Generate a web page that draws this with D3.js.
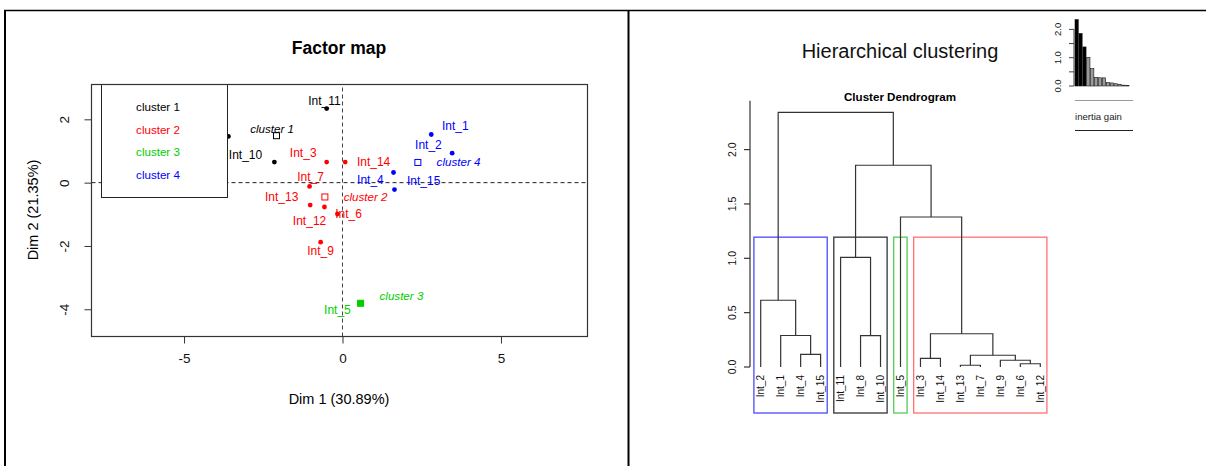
<!DOCTYPE html>
<html>
<head>
<meta charset="utf-8">
<title>Factor map and hierarchical clustering</title>
<script src="https://d3js.org/d3.v7.min.js"></script>
<style>
body { margin: 0; background: #fff; }
svg { display: block; font-family: "Liberation Sans", Arial, sans-serif; }
</style>
</head>
<body>
<svg id="chart" width="1206" height="466"></svg>
<script>
// individuals on the first factorial plane
const indNames   = ["Int_1","Int_2","Int_3","Int_4","Int_5","Int_6","Int_7","Int_8","Int_9","Int_10","Int_11","Int_12","Int_13","Int_14","Int_15"];
const dim1       = [2.80, 3.46, -0.50, 1.61, 0.57, -0.16, -1.04, -3.60, -0.69, -2.15, -0.50, -0.57, -1.02, 0.085, 1.64];
const dim2       = [1.52, 0.93, 0.65, 0.32, -3.81, -0.99, -0.12, 1.46, -1.88, 0.65, 2.34, -0.77, -0.71, 0.65, -0.22];
const indCluster = [4, 4, 2, 4, 3, 2, 2, 1, 2, 1, 1, 2, 2, 2, 4];
// where the text labels sit (in factor map units)
const labelDim1  = [3.56, 2.71, -1.24, 0.88, -0.16, 0.19, -1.01, -4.30, -0.69, -3.06, -0.57, -1.04, -1.92, 0.98, 2.56];
const labelDim2  = [1.78, 1.18, 0.93, 0.09, -4.03, -0.97, 0.17, 1.72, -2.14, 0.89, 2.59, -1.22, -0.45, 0.67, 0.07];

const clusterNames  = ["cluster 1","cluster 2","cluster 3","cluster 4"];
const clusterColors = ["#000000","#ff0000","#00cd00","#0000ff"];
const clusterLabelDim1 = [-2.22, 0.73, 1.86, 3.66];
const clusterLabelDim2 = [1.71, -0.45, -3.59, 0.64];

const xTicks = [-5, 0, 5];
const yTicks = [-4, -2, 0, 2];

// dendrogram (R style merge list: strings are leaves, numbers earlier steps)
const leafOrder   = ["Int_2","Int_1","Int_4","Int_15","Int_11","Int_8","Int_10","Int_5","Int_3","Int_14","Int_13","Int_7","Int_9","Int_6","Int_12"];
const mergeLeft   = ["Int_13","Int_6","Int_9","Int_3",1,"Int_4","Int_8","Int_1",4,"Int_2","Int_11","Int_5",11,10];
const mergeRight  = ["Int_7","Int_12",2,"Int_14",3,"Int_15","Int_10",6,5,8,7,9,12,13];
const mergeHeight = [0.016,0.030,0.062,0.080,0.108,0.117,0.288,0.290,0.306,0.614,1.009,1.380,1.856,2.343];
const dendroTicks = [0, 0.5, 1, 1.5, 2];
const nbClust = 4;

const svg = d3.select("#chart");

// table borders
svg.append("line").attr("x1", 4).attr("x2", 1206).attr("y1", 10.5).attr("y2", 10.5).attr("stroke", "#000").attr("stroke-width", 1.4);
svg.append("line").attr("x1", 5).attr("x2", 5).attr("y1", 10).attr("y2", 466).attr("stroke", "#000").attr("stroke-width", 2);
svg.append("line").attr("x1", 628.5).attr("x2", 628.5).attr("y1", 10).attr("y2", 466).attr("stroke", "#000").attr("stroke-width", 2);

// ---------- factor map ----------
const fx = d3.scaleLinear().domain([-7.92, 7.73]).range([91.5, 587.5]);
const fy = d3.scaleLinear().domain([-4.86, 3.10]).range([336.5, 84.5]);
const fm = svg.append("g");

fm.append("text").attr("x", 339).attr("y", 54).attr("text-anchor", "middle")
  .attr("font-size", 17.5).attr("font-weight", "bold").text("Factor map");

// dashed zero lines
fm.append("line").attr("x1", fx.range()[0]).attr("x2", fx.range()[1]).attr("y1", fy(0)).attr("y2", fy(0))
  .attr("stroke", "#222").attr("stroke-dasharray", "4,3");
fm.append("line").attr("x1", fx(0)).attr("x2", fx(0)).attr("y1", fy.range()[0]).attr("y2", fy.range()[1])
  .attr("stroke", "#444").attr("stroke-dasharray", "4,3");

// axes
const xAxis = fm.append("g").attr("transform", "translate(0," + fy.range()[0] + ")")
  .call(d3.axisBottom(fx).tickValues(xTicks).tickSize(7).tickPadding(10).tickFormat(d => String(d)));
xAxis.select(".domain").remove();
xAxis.selectAll("line").attr("stroke", "#333");
xAxis.selectAll("text").attr("font-size", 13.5).attr("fill", "#111").attr("font-family", "Liberation Sans, Arial, sans-serif");

const yAxis = fm.append("g").attr("transform", "translate(" + fx.range()[0] + ",0)")
  .call(d3.axisLeft(fy).tickValues(yTicks).tickSize(7).tickFormat(d => String(d)));
yAxis.select(".domain").remove();
yAxis.selectAll("line").attr("stroke", "#333");
yAxis.selectAll("text").attr("x", null).attr("dy", null).attr("text-anchor", "middle")
  .attr("transform", "translate(-23,0) rotate(-90)")
  .attr("font-size", 13.5).attr("fill", "#111").attr("font-family", "Liberation Sans, Arial, sans-serif");

fm.append("text").attr("x", 339).attr("y", 404).attr("text-anchor", "middle").attr("font-size", 14.5)
  .text("Dim 1 (30.89%)");
fm.append("text").attr("transform", "translate(38,210) rotate(-90)").attr("text-anchor", "middle").attr("font-size", 14.5)
  .text("Dim 2 (21.35%)");

// individuals
const inds = indNames.map((n, i) => ({name: n, x: dim1[i], y: dim2[i], lx: labelDim1[i], ly: labelDim2[i], c: indCluster[i]}));
fm.selectAll("circle.ind").data(inds).enter().append("circle")
  .attr("class", "ind")
  .attr("cx", d => fx(d.x)).attr("cy", d => fy(d.y)).attr("r", 2.4)
  .attr("fill", d => clusterColors[d.c - 1]);
fm.selectAll("text.ind").data(inds).enter().append("text")
  .attr("class", "ind")
  .attr("x", d => fx(d.lx)).attr("y", d => fy(d.ly)).attr("dy", "0.35em")
  .attr("text-anchor", "middle").attr("font-size", 12)
  .attr("fill", d => clusterColors[d.c - 1]).text(d => d.name);

// cluster centres
const centres = clusterNames.map((n, i) => {
  const members = inds.filter(d => d.c === i + 1);
  return {name: n, x: d3.mean(members, d => d.x), y: d3.mean(members, d => d.y),
          lx: clusterLabelDim1[i], ly: clusterLabelDim2[i], col: clusterColors[i], size: members.length};
});
fm.selectAll("rect.centre").data(centres).enter().append("rect")
  .attr("class", "centre")
  .attr("x", d => fx(d.x) - 3).attr("y", d => fy(d.y) - 3).attr("width", 6).attr("height", 6)
  .attr("fill", d => d.size === 1 ? d.col : "none")
  .attr("stroke", d => d.col).attr("stroke-width", 1);
fm.selectAll("text.centre").data(centres).enter().append("text")
  .attr("class", "centre")
  .attr("x", d => fx(d.lx)).attr("y", d => fy(d.ly)).attr("dy", "0.35em")
  .attr("text-anchor", "middle").attr("font-size", 11.6).attr("font-style", "italic")
  .attr("fill", d => d.col).text(d => d.name);

// legend
const legend = fm.append("g");
legend.append("rect").attr("x", 101.5).attr("y", 84.5).attr("width", 126).attr("height", 113)
  .attr("fill", "#fff").attr("stroke", "#222");
legend.selectAll("text").data(clusterNames).enter().append("text")
  .attr("x", 158).attr("y", (d, i) => 107 + i * 22.7).attr("dy", "0.35em")
  .attr("text-anchor", "middle").attr("font-size", 11.6)
  .attr("fill", (d, i) => clusterColors[i]).text(d => d);

// plot box
fm.append("rect").attr("x", fx.range()[0]).attr("y", fy.range()[1])
  .attr("width", fx.range()[1] - fx.range()[0]).attr("height", fy.range()[0] - fy.range()[1])
  .attr("fill", "none").attr("stroke", "#333").attr("stroke-width", 1.2);

// ---------- hierarchical clustering ----------
const hc = svg.append("g");
hc.append("text").attr("x", 900).attr("y", 58).attr("text-anchor", "middle").attr("font-size", 20)
  .attr("fill", "#111").text("Hierarchical clustering");
hc.append("text").attr("x", 900).attr("y", 101).attr("text-anchor", "middle").attr("font-size", 11.6)
  .attr("font-weight", "bold").text("Cluster Dendrogram");

const dx = d3.scalePoint().domain(leafOrder).range([760.7, 1040.3]);
const dy = d3.scaleLinear().domain([0, 2]).range([367, 149.6]);
const dendroBottom = 413;

// cluster boxes (cut at nbClust)
const cutH = (mergeHeight[mergeHeight.length - nbClust] + mergeHeight[mergeHeight.length - nbClust + 1]) / 2;
const boxes = clusterNames.map((n, i) => {
  const lv = leafOrder.filter(l => indCluster[indNames.indexOf(l)] === i + 1);
  return {first: lv[0], last: lv[lv.length - 1], col: clusterColors[i]};
});
const boxCols = ["#333333", "#ff7070", "#55cc55", "#4a4aff"];
hc.selectAll("rect.box").data(boxes).enter().append("rect")
  .attr("class", "box")
  .attr("x", d => dx(d.first) - 0.34 * dx.step())
  .attr("y", dy(cutH))
  .attr("width", d => dx(d.last) - dx(d.first) + 0.67 * dx.step())
  .attr("height", d => dendroBottom - dy(cutH))
  .attr("fill", "none").attr("stroke", (d, i) => boxCols[i]).attr("stroke-width", 1.3);

// merges
const nodes = [];
const pos = ref => typeof ref === "string" ? {x: dx(ref), h: 0} : nodes[ref - 1];
mergeHeight.forEach((h, i) => {
  const a = pos(mergeLeft[i]), b = pos(mergeRight[i]);
  nodes.push({x: (a.x + b.x) / 2, h: h, a: a, b: b});
});
hc.selectAll("path.merge").data(nodes).enter().append("path")
  .attr("class", "merge")
  .attr("d", d => "M" + d.a.x + "," + dy(d.a.h) + "V" + dy(d.h) + "H" + d.b.x + "V" + dy(d.b.h))
  .attr("fill", "none").attr("stroke", "#333").attr("stroke-width", 1.2);

hc.selectAll("text.leaf").data(leafOrder).enter().append("text")
  .attr("class", "leaf")
  .attr("transform", d => "translate(" + (dx(d) + 3.5) + ",375) rotate(-90)")
  .attr("text-anchor", "end").attr("font-size", 10).attr("fill", "#111").text(d => d);

// dendrogram axis
hc.append("line").attr("x1", 750).attr("x2", 750).attr("y1", dy(0)).attr("y2", dy(2.45))
  .attr("stroke", "#333").attr("stroke-width", 1.2);
const dt = hc.selectAll("g.dtick").data(dendroTicks).enter().append("g")
  .attr("class", "dtick").attr("transform", d => "translate(750," + dy(d) + ")");
dt.append("line").attr("x1", -6).attr("x2", 0).attr("stroke", "#333").attr("stroke-width", 1.2);
dt.append("text").attr("transform", "translate(-14,0) rotate(-90)").attr("text-anchor", "middle")
  .attr("font-size", 10.5).attr("fill", "#111").text(d3.format(".1f"));

// inertia gain barplot
const gains = mergeHeight.slice().reverse();
const ix = d3.scaleBand().domain(d3.range(gains.length)).range([1075, 1129]).paddingInner(0.17);
const iy = d3.scaleLinear().domain([0, 2]).range([86, 29.4]);
hc.selectAll("rect.gain").data(gains).enter().append("rect")
  .attr("class", "gain")
  .attr("x", (d, i) => ix(i)).attr("y", d => iy(d))
  .attr("width", ix.bandwidth()).attr("height", d => iy(0) - iy(d))
  .attr("fill", (d, i) => i < nbClust - 1 ? "#000" : "#9a9a9a")
  .attr("stroke", "#111").attr("stroke-width", 0.6);
hc.append("line").attr("x1", 1074).attr("x2", 1074).attr("y1", iy(0)).attr("y2", iy(2))
  .attr("stroke", "#444");
const it = hc.selectAll("g.itick").data([0, 0.5, 1, 1.5, 2]).enter().append("g")
  .attr("class", "itick").attr("transform", d => "translate(1074," + iy(d) + ")");
it.append("line").attr("x1", -5).attr("x2", 0).attr("stroke", "#444");
it.filter(d => d % 1 === 0).append("text").attr("transform", "translate(-13.5,0) rotate(-90)")
  .attr("text-anchor", "middle").attr("font-size", 9.5).attr("fill", "#111").text(d3.format(".1f"));

hc.append("line").attr("x1", 1075).attr("x2", 1133).attr("y1", 100.5).attr("y2", 100.5).attr("stroke", "#999");
hc.append("text").attr("x", 1075).attr("y", 117).attr("dy", "0.35em").attr("font-size", 9.6)
  .attr("fill", "#222").text("inertia gain");
hc.append("line").attr("x1", 1075).attr("x2", 1133).attr("y1", 130.5).attr("y2", 130.5).attr("stroke", "#222");
</script>
</body>
</html>
